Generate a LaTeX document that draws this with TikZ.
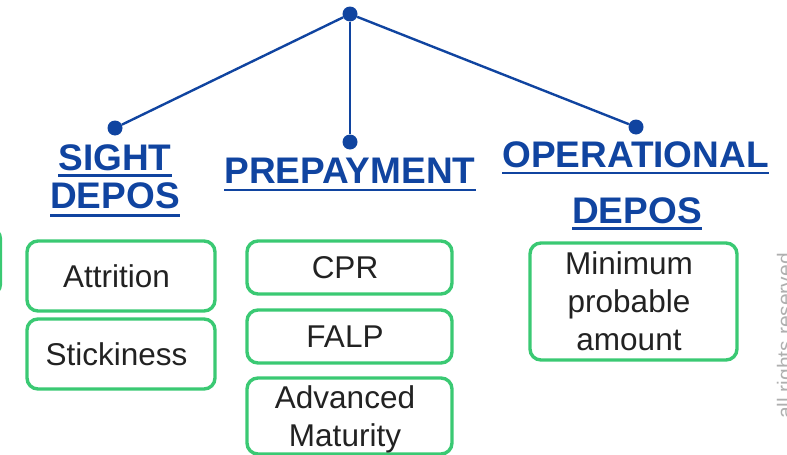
\documentclass[tikz,border=0pt]{standalone}
\usepackage{fontspec}
\setmainfont{Liberation Sans}
\definecolor{hblue}{RGB}{16,68,160}
\definecolor{bgreen}{RGB}{58,201,115}
\definecolor{tgray}{RGB}{34,34,34}
\definecolor{wgray}{RGB}{175,175,175}
\newcommand{\rsh}{\kern9pt}
\tikzset{
  dot/.style={circle,fill=hblue,inner sep=0pt,minimum size=15pt},
  link/.style={draw=hblue,line width=2.4pt},
  head/.style={inner sep=0pt,anchor=base,text=hblue,font=\fontsize{37}{40}\selectfont\bfseries},
  uline/.style={draw=hblue,line width=2.6pt},
  leaf/.style={draw=bgreen,line width=3.4pt,rounded corners=11pt,text=tgray,
    font=\fontsize{31.5}{38}\selectfont,align=center,inner sep=0pt}
}
\begin{document}
\begin{tikzpicture}[x=1pt,y=-1pt]
\useasboundingbox (0,0) rectangle (787,455);
\clip (0,0) rectangle (787,455);
% dots
\node[dot] (root) at (350,14) {};
\node[dot] (dl) at (115,128) {};
\node[dot] (dm) at (350,142) {};
\node[dot] (dr) at (636,127) {};
\draw[link] (root) -- (dl);
\draw[link] (root) -- (dm);
\draw[link] (root) -- (dr);
% headings
\node[head] (h1a) at (115,170) {SIGHT};
\node[head] (h1b) at (115,208) {DEPOS};
\node[head] (h2) at (350,183) {PREPAYMENT};
\node[head] (h3a) at (635.5,167) {OPERATIONAL};
\node[head] (h3b) at (637,223) {DEPOS};
\draw[uline] ([yshift=-5.5pt]h1a.base west) -- ([yshift=-5.5pt]h1a.base east);
\draw[uline] ([yshift=-7.5pt]h1b.base west) -- ([yshift=-7.5pt]h1b.base east);
\draw[uline] ([yshift=-7pt]h2.base west) -- ([yshift=-7pt]h2.base east);
\draw[uline] ([yshift=-6pt]h3a.base west) -- ([yshift=-6pt]h3a.base east);
\draw[uline] ([yshift=-5.5pt]h3b.base west) -- ([yshift=-5.5pt]h3b.base east);
% leaf boxes
\node[leaf,minimum width=201pt,minimum height=67pt] (cut) at (-100,261.5) {};
\node[leaf,minimum width=188pt,minimum height=70pt] (attr) at (121,276) {Attrition\rsh};
\node[leaf,minimum width=188pt,minimum height=70pt] (stick) at (121,354) {Stickiness\rsh};
\node[leaf,minimum width=205pt,minimum height=53pt] (cpr) at (349.5,267.5) {CPR\rsh};
\node[leaf,minimum width=205pt,minimum height=53pt] (falp) at (349.5,336.5) {FALP\rsh};
\node[leaf,minimum width=205pt,minimum height=76pt,text depth=0pt] (adv) at (349.5,416) {Advanced\rsh\\Maturity\rsh};
\node[leaf,minimum width=207pt,minimum height=117pt] (mpa) at (633.5,301.5) {Minimum\rsh\\probable\rsh\\amount\rsh};
% watermark
\node[inner sep=0pt,anchor=base,rotate=90,text=wgray,font=\fontsize{21}{24}\selectfont] (wm) at (792,336) {all rights reserved};
\end{tikzpicture}
\end{document}
